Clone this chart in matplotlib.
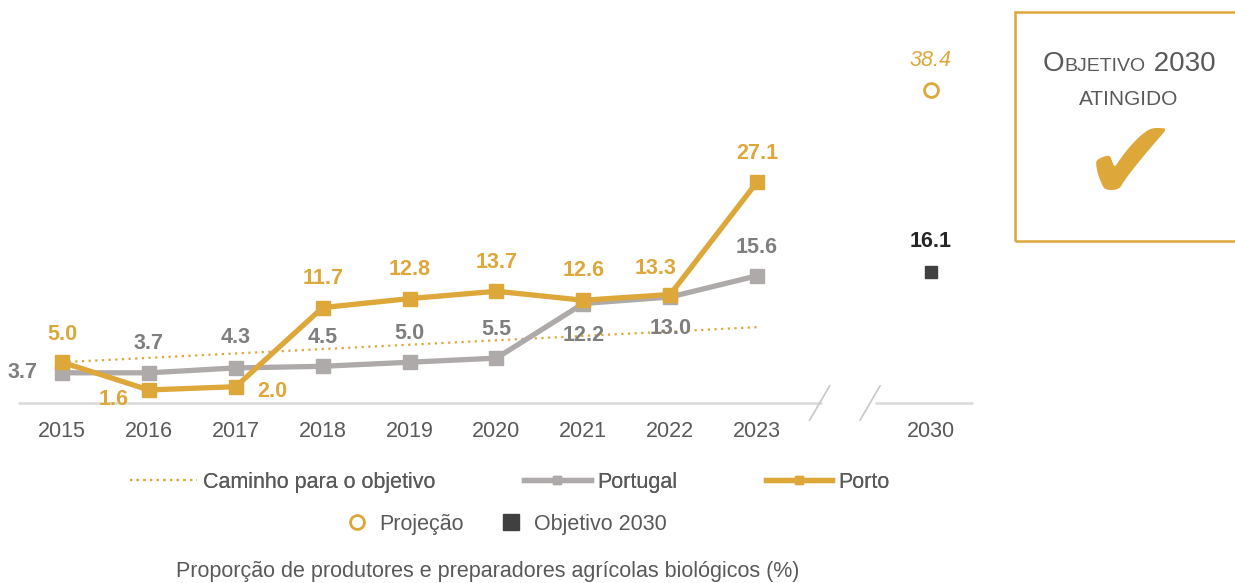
import matplotlib.pyplot as plt
from matplotlib.lines import Line2D
from matplotlib.patches import Rectangle
from matplotlib.offsetbox import TextArea, HPacker, VPacker, AnchoredOffsetbox

plt.rcParams['font.family'] = ['Liberation Sans', 'DejaVu Sans']

years = ["2015", "2016", "2017", "2018", "2019", "2020", "2021", "2022", "2023"]
portugal = [3.7, 3.7, 4.3, 4.5, 5.0, 5.5, 12.2, 13.0, 15.6]
porto = [5.0, 1.6, 2.0, 11.7, 12.8, 13.7, 12.6, 13.3, 27.1]
caminho_years = ["2015", "2023"]
caminho = [5.0, 9.3]
target_year = "2030"
projecao = 38.4
objetivo = 16.1

GOLD = "#DDA73A"
GREY = "#AEAAAA"
LABEL_GREY = "#7F7F7F"
TEXT = "#595959"
FS = 15.5

# label offsets in pixels (dx, dy)
pt_offsets = [(-39, 0), (0, 29), (0, 30), (0, 29), (0, 29), (0, 29), (0, -32), (0, -32), (0, 28)]
po_offsets = [(0, 28), (-35, -10), (37, -5), (0, 29), (0, 29), (0, 29), (0, 30), (-15, 26), (0, 28)]

fig = plt.figure(figsize=(12.35, 5.83), dpi=100)
ax = fig.add_axes([0, (583 - 403) / 583, 1, 367 / 583])

x = list(range(len(years)))
xt = len(years) + 1
xc = [years.index(y) for y in caminho_years]

ax.plot(xc, caminho, color=GOLD, lw=1.6, ls=(0, (1, 2)), zorder=2)
ax.plot(x, portugal, color=GREY, lw=3.8, marker="s", ms=10, zorder=3)
ax.plot(x, porto, color=GOLD, lw=3.8, marker="s", ms=10, zorder=4)
ax.plot([xt], [projecao], ls="none", marker="o", ms=10, mfc="white", mec=GOLD, mew=2, zorder=4)
ax.plot([xt], [objetivo], ls="none", marker="s", ms=9, color="#404040", zorder=4)

for i, v in enumerate(portugal):
    ax.annotate(f"{v:.1f}", (i, v), xytext=pt_offsets[i], textcoords="offset pixels",
                ha="center", va="center", fontsize=FS, fontweight="bold", color=LABEL_GREY, zorder=5)
for i, v in enumerate(porto):
    ax.annotate(f"{v:.1f}", (i, v), xytext=po_offsets[i], textcoords="offset pixels",
                ha="center", va="center", fontsize=FS, fontweight="bold", color=GOLD, zorder=5)
ax.annotate(f"{projecao:.1f}", (xt, projecao), xytext=(0, 29), textcoords="offset pixels",
            ha="center", va="center", fontsize=FS, style="italic", color=GOLD)
ax.annotate(f"{objetivo:.1f}", (xt, objetivo), xytext=(0, 30), textcoords="offset pixels",
            ha="center", va="center", fontsize=FS, fontweight="bold", color="#262626")

# axis line with break
ax.hlines(0, -0.51, 8.75, color="#D9D9D9", lw=1.8, clip_on=False)
ax.hlines(0, 9.36, 10.48, color="#D9D9D9", lw=1.8, clip_on=False)
for bx in [8.72, 9.3]:
    ax.plot([bx - 0.115, bx + 0.115], [-2.1, 2.1], color="#C8C8C8", lw=1.2, clip_on=False)

ax.set_xlim(-0.713, 13.5)
ax.set_ylim(0, 45)
ax.set_xticks(x + [xt])
ax.set_xticklabels(years + [target_year])
ax.tick_params(axis="x", length=0, pad=13, labelsize=FS, labelcolor=TEXT)
ax.set_yticks([])
for s in ax.spines.values():
    s.set_visible(False)
ax.patch.set_alpha(0)

# legends
h1 = [Line2D([], [], color=GOLD, lw=1.6, ls=(0, (1, 2))),
      Line2D([], [], color=GREY, lw=3.8, marker="s", ms=6),
      Line2D([], [], color=GOLD, lw=3.8, marker="s", ms=6)]
leg1 = fig.legend(h1, ["Caminho para o objetivo", "Portugal", "Porto"], loc="center",
                  bbox_to_anchor=(0.413, 0.173), ncol=3, frameon=False, fontsize=FS,
                  handlelength=3.1, handletextpad=0.3, columnspacing=4.1, labelcolor=TEXT)
h2 = [Line2D([], [], ls="none", marker="o", ms=10, mfc="white", mec=GOLD, mew=2),
      Line2D([], [], ls="none", marker="s", ms=11, color="#404040")]
leg2 = fig.legend(h2, ["Projeção", "Objetivo 2030"], loc="center",
                  bbox_to_anchor=(0.41, 0.101), ncol=2, frameon=False, fontsize=FS,
                  handlelength=1.0, handletextpad=0.55, columnspacing=1.7, labelcolor=TEXT)
fig.add_artist(leg1)

fig.text(0.395, 0.019, "Proporção de produtores e preparadores agrícolas biológicos (%)",
         ha="center", va="center", fontsize=FS, color=TEXT)

# objective box
fig.add_artist(Rectangle((1015 / 1235, (583 - 241) / 583), 0.25, 229 / 583,
                         transform=fig.transFigure, fill=False, ec=GOLD, lw=1.8))
row1 = HPacker(children=[TextArea("O", textprops=dict(fontsize=20, color=TEXT)),
                         TextArea("BJETIVO", textprops=dict(fontsize=14, color=TEXT)),
                         TextArea(" 2030", textprops=dict(fontsize=20, color=TEXT))],
               align="baseline", pad=0, sep=0)
row2 = TextArea("ATINGIDO", textprops=dict(fontsize=15, color=TEXT))
box = VPacker(children=[row1, row2], align="center", pad=0, sep=10)
fig.add_artist(AnchoredOffsetbox(loc="center", child=box, frameon=False,
                                 bbox_to_anchor=(1129 / 1235, 1 - 80 / 583),
                                 bbox_transform=fig.transFigure, pad=0, borderpad=0))
fig.text(1131 / 1235, 1 - 169 / 583, "\u2714", ha="center", va="center",
         fontsize=82, color=GOLD, family="DejaVu Sans")

fig.savefig("out.png", dpi=100)
